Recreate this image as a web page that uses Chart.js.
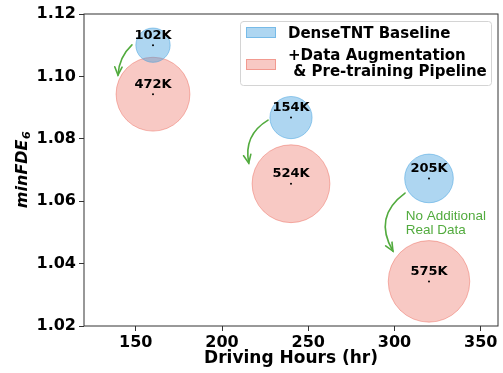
<!DOCTYPE html>
<html>
<head>
<meta charset="utf-8">
<script src="https://cdn.jsdelivr.net/npm/chart.js@4.4.0/dist/chart.umd.min.js"></script>
<style>
  html, body { margin: 0; padding: 0; background: #fff; }
  #wrap { width: 503px; height: 373px; }
</style>
</head>
<body>
<div id="wrap"><canvas id="fdeChart"></canvas></div>
<script>
// data
const drivingHours = [160, 240, 320];
const baselineFDE = [1.1100, 1.0868, 1.0673];
const augmentedFDE = [1.0943, 1.0656, 1.0343];
const baselineSamples = [102, 154, 205];   // thousands
const augmentedSamples = [472, 524, 575];  // thousands
const seriesNames = ['DenseTNT Baseline', '+Data Augmentation\n & Pre-training Pipeline'];
const xTicks = [150, 200, 250, 300, 350];
const yTicks = [1.02, 1.04, 1.06, 1.08, 1.10, 1.12];
const noteText = ['No Additional', 'Real Data'];

// bubble area grows with the number of samples
const rScale = 1.7;
const toBubbles = (ys, counts) => drivingHours.map((h, i) => ({ x: h, y: ys[i], r: Math.sqrt(counts[i]) * rScale }));

// curved arrows, in data coords: [x0, y0, x1, y1, bend]
const arrows = [
    [147.8, 1.1101, 139.7, 1.1004, 0.2],
    [226.7, 1.0860, 215.5, 1.0722, 0.35],
    [306.1, 1.0626, 299.1, 1.0440, 0.45]
];
const green = '#52ab3e';
const font = '"DejaVu Sans", sans-serif';

function drawArrow(ctx, p0, p1, bend) {
    const dx = p1.x - p0.x, dy = p1.y - p0.y;
    const cx = (p0.x + p1.x) / 2 - dy * bend;
    const cy = (p0.y + p1.y) / 2 + dx * bend;
    ctx.beginPath();
    ctx.moveTo(p0.x, p0.y);
    ctx.quadraticCurveTo(cx, cy, p1.x, p1.y);
    ctx.stroke();
    const ang = Math.atan2(p1.y - cy, p1.x - cx);
    const len = 9, spread = 0.42;
    ctx.beginPath();
    ctx.moveTo(p1.x - len * Math.cos(ang - spread), p1.y - len * Math.sin(ang - spread));
    ctx.lineTo(p1.x, p1.y);
    ctx.lineTo(p1.x - len * Math.cos(ang + spread), p1.y - len * Math.sin(ang + spread));
    ctx.stroke();
}

const overlay = {
    id: 'overlay',
    afterDatasetsDraw(chart) {
        const { ctx, chartArea: a, scales: { x, y } } = chart;
        ctx.save();

        // frame
        ctx.strokeStyle = '#333';
        ctx.lineWidth = 1;
        ctx.strokeRect(a.left, a.top, a.right - a.left, a.bottom - a.top);

        // sample counts and centre dots
        chart.data.datasets.forEach((ds, di) => {
            chart.getDatasetMeta(di).data.forEach((pt, i) => {
                ctx.fillStyle = '#000';
                ctx.beginPath();
                ctx.arc(pt.x, pt.y, 1, 0, Math.PI * 2);
                ctx.fill();
                ctx.font = 'bold 13px ' + font;
                ctx.textAlign = 'center';
                ctx.textBaseline = 'middle';
                ctx.fillText(ds.counts[i] + 'K', pt.x, pt.y - 10);
            });
        });

        // arrows
        ctx.strokeStyle = green;
        ctx.lineWidth = 1.6;
        ctx.lineCap = 'round';
        arrows.forEach(([x0, y0, x1, y1, b]) => {
            drawArrow(ctx,
                { x: x.getPixelForValue(x0), y: y.getPixelForValue(y0) },
                { x: x.getPixelForValue(x1), y: y.getPixelForValue(y1) }, b);
        });

        // note
        ctx.fillStyle = green;
        ctx.font = '13.5px "Liberation Sans", Arial, sans-serif';
        ctx.textAlign = 'left';
        ctx.textBaseline = 'middle';
        ctx.fillText(noteText[0], x.getPixelForValue(306.5), y.getPixelForValue(1.0553));
        ctx.fillText(noteText[1], x.getPixelForValue(306.5), y.getPixelForValue(1.0508));

        // legend
        ctx.fillStyle = 'rgba(255,255,255,0.85)';
        ctx.strokeStyle = '#d4d4d4';
        ctx.lineWidth = 1;
        ctx.beginPath();
        ctx.roundRect(240.5, 21.5, 251, 64, 3);
        ctx.fill();
        ctx.stroke();
        const patchY = [27, 59];
        const lineBase = [[37.7], [60, 76]];
        chart.data.datasets.forEach((ds, di) => {
            ctx.fillStyle = ds.backgroundColor;
            ctx.fillRect(246, patchY[di], 30, 11);
            ctx.strokeStyle = ds.borderColor;
            ctx.strokeRect(246.5, patchY[di] + 0.5, 29, 10);
            ctx.fillStyle = '#000';
            ctx.font = 'bold 15px ' + font;
            ctx.textAlign = 'left';
            ctx.textBaseline = 'alphabetic';
            ds.label.split('\n').forEach((ln, li) => ctx.fillText(ln, 288, lineBase[di][li]));
        });

        // y title with subscript
        ctx.translate(21, (a.top + a.bottom) / 2);
        ctx.rotate(-Math.PI / 2);
        ctx.fillStyle = '#000';
        ctx.textBaseline = 'alphabetic';
        ctx.font = 'italic bold 16px ' + font;
        const main = 'minFDE';
        const w1 = ctx.measureText(main).width;
        ctx.font = 'italic bold 11px ' + font;
        const w2 = ctx.measureText('6').width;
        const sx = -(w1 + w2) / 2;
        ctx.font = 'italic bold 16px ' + font;
        ctx.fillText(main, sx, 6);
        ctx.font = 'italic bold 11px ' + font;
        ctx.fillText('6', sx + w1 + 0.5, 9);

        ctx.restore();
    }
};

new Chart(document.getElementById('fdeChart'), {
    type: 'bubble',
    data: {
        datasets: [{
            label: seriesNames[0],
            data: toBubbles(baselineFDE, baselineSamples),
            counts: baselineSamples,
            backgroundColor: 'rgba(52,152,219,0.4)',
            borderColor: 'rgba(52,152,219,0.45)',
            borderWidth: 1
        }, {
            label: seriesNames[1],
            data: toBubbles(augmentedFDE, augmentedSamples),
            counts: augmentedSamples,
            backgroundColor: 'rgba(231,76,60,0.3)',
            borderColor: 'rgba(231,76,60,0.38)',
            borderWidth: 1
        }]
    },
    options: {
        responsive: true,
        maintainAspectRatio: false,
        animation: false,
        events: [],
        layout: { autoPadding: false, padding: { top: 14, right: 5, left: 0, bottom: 0 } },
        plugins: { legend: { display: false }, tooltip: { enabled: false } },
        scales: {
            x: {
                type: 'linear',
                min: 120,
                max: 360,
                afterBuildTicks: s => { s.ticks = xTicks.map(v => ({ value: v })); },
                afterFit: s => { s.height = 47; },
                grid: { drawOnChartArea: false, color: '#333', tickLength: 5 },
                border: { display: false },
                ticks: { color: '#000', padding: 2, font: { family: font, size: 16, weight: 'bold' } },
                title: {
                    display: true,
                    text: 'Driving Hours (hr)',
                    color: '#000',
                    padding: { top: 0, bottom: 4 },
                    font: { family: font, size: 17, weight: 'bold' }
                }
            },
            y: {
                type: 'linear',
                min: 1.02,
                max: 1.12,
                afterBuildTicks: s => { s.ticks = yTicks.map(v => ({ value: v })); },
                afterFit: s => { s.width = 84; },
                grid: { drawOnChartArea: false, color: '#333', tickLength: 5 },
                border: { display: false },
                ticks: {
                    color: '#000',
                    padding: 3,
                    font: { family: font, size: 16, weight: 'bold' },
                    callback: v => v.toFixed(2)
                }
            }
        }
    },
    plugins: [overlay]
});
</script>
</body>
</html>
